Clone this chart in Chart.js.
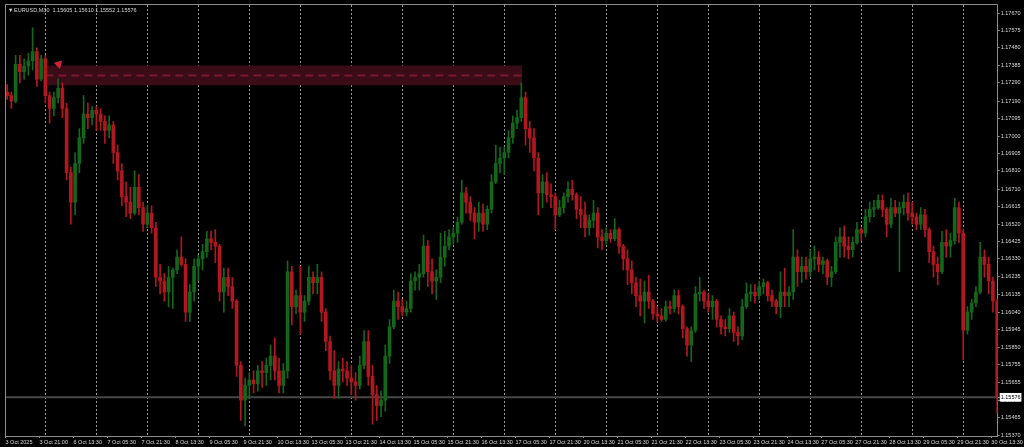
<!DOCTYPE html>
<html>
<head>
<meta charset="utf-8">
<script src="https://cdn.jsdelivr.net/npm/chart.js@4.4.1/dist/chart.umd.min.js"></script>
<style>
    html, body { margin: 0; padding: 0; background: #000; overflow: hidden; }
    #chartCandles { display: block; }
</style>
</head>
<body>
<canvas id="chartCandles" width="1024" height="447"></canvas>
<script>
const opens = [
    1.1724,1.1722,1.1719,1.1739,1.1735,1.1738,1.1741,1.1746,1.1731,1.1742,1.1722,1.1715,1.1721,1.1726,1.1715,1.1680,1.1664,1.1685,1.1699,1.1712,
    1.1710,1.1714,1.1712,1.1708,1.1703,1.1706,1.1691,1.1681,1.1667,1.1664,1.1658,1.1672,1.1661,1.1652,1.1658,1.1650,1.1623,1.1621,1.1615,1.1623,
    1.1627,1.1634,1.1630,1.1604,1.1615,1.1629,1.1633,1.1637,1.1644,1.1642,1.1640,1.1615,1.1623,1.1618,1.1610,1.1575,1.1556,1.1564,1.1567,1.1565,
    1.1572,1.1571,1.1575,1.1580,1.1572,1.1564,1.1572,1.1626,1.1607,1.1613,1.1604,1.1610,1.1623,1.1620,1.1623,1.1604,1.1588,1.1572,1.1564,1.1573,
    1.1572,1.1568,1.1566,1.1564,1.1575,1.1588,1.1569,1.1559,1.1553,1.1556,1.1580,1.1596,1.1610,1.1607,1.1604,1.1606,1.1621,1.1623,1.1625,1.1640,
    1.1626,1.1621,1.1623,1.1634,1.1640,1.1645,1.1647,1.1653,1.1669,1.1664,1.1658,1.1653,1.1658,1.1652,1.1660,1.1675,1.1685,1.1688,1.1691,1.1699,
    1.1707,1.1710,1.1721,1.1704,1.1699,1.1688,1.1669,1.1675,1.1668,1.1667,1.1657,1.1661,1.1667,1.1671,1.1668,1.1660,1.1657,1.1650,1.1654,1.1658,
    1.1645,1.1643,1.1647,1.1644,1.1649,1.1640,1.1633,1.1627,1.1620,1.1613,1.1610,1.1615,1.1610,1.1603,1.1602,1.1600,1.1607,1.1606,1.1613,1.1607,
    1.1595,1.1586,1.1594,1.1614,1.1615,1.1610,1.1607,1.1610,1.1600,1.1596,1.1595,1.1602,1.1593,1.1591,1.1607,1.1614,1.1615,1.1613,1.1618,1.1620,
    1.1613,1.1610,1.1607,1.1615,1.1613,1.1615,1.1634,1.1626,1.1629,1.1626,1.1633,1.1634,1.1630,1.1632,1.1623,1.1626,1.1642,1.1645,1.1640,1.1638,
    1.1642,1.1649,1.1647,1.1656,1.1660,1.1661,1.1665,1.1660,1.1652,1.1661,1.1658,1.1661,1.1664,1.1658,1.1656,1.1652,1.1657,1.1649,1.1637,1.1630,
    1.1626,1.1642,1.1640,1.1643,1.1661,1.1647,1.1594,1.1604,1.1609,1.1615,1.1634,1.1630,1.1621,1.1610
];
const highs = [
    1.1728,1.1724,1.1744,1.1744,1.1742,1.1745,1.1759,1.1748,1.1744,1.1744,1.1724,1.1724,1.1731,1.1729,1.1718,1.1683,1.1691,1.1704,1.1722,1.1718,
    1.1716,1.1716,1.1715,1.1711,1.1711,1.1708,1.1695,1.1685,1.1675,1.1672,1.1681,1.1679,1.1664,1.1662,1.1662,1.1653,1.1630,1.1625,1.1629,1.1628,
    1.1638,1.1645,1.1633,1.1619,1.1633,1.1635,1.1641,1.1648,1.1648,1.1649,1.1641,1.1628,1.1628,1.1623,1.1611,1.1577,1.1568,1.1571,1.1572,1.1575,
    1.1577,1.1579,1.1586,1.1590,1.1579,1.1576,1.1632,1.1629,1.1616,1.1629,1.1613,1.1629,1.1626,1.1630,1.1626,1.1606,1.1591,1.1583,1.1577,1.1579,
    1.1577,1.1575,1.1571,1.1580,1.1594,1.1594,1.1575,1.1564,1.1561,1.1586,1.1600,1.1616,1.1615,1.1611,1.1610,1.1625,1.1626,1.1630,1.1646,1.1643,
    1.1633,1.1627,1.1647,1.1648,1.1649,1.1650,1.1656,1.1676,1.1672,1.1667,1.1661,1.1664,1.1663,1.1662,1.1679,1.1695,1.1694,1.1694,1.1703,1.1711,
    1.1714,1.1729,1.1724,1.1708,1.1704,1.1691,1.1679,1.1680,1.1674,1.1669,1.1665,1.1669,1.1675,1.1676,1.1669,1.1667,1.1664,1.1657,1.1665,1.1661,
    1.1649,1.1650,1.1649,1.1655,1.1650,1.1641,1.1638,1.1632,1.1623,1.1622,1.1621,1.1624,1.1611,1.1607,1.1606,1.1610,1.1610,1.1616,1.1616,1.1608,
    1.1596,1.1596,1.1618,1.1623,1.1616,1.1614,1.1613,1.1611,1.1602,1.1600,1.1606,1.1604,1.1596,1.1611,1.1620,1.1619,1.1619,1.1621,1.1622,1.1621,
    1.1616,1.1611,1.1626,1.1628,1.1618,1.1649,1.1638,1.1634,1.1634,1.1638,1.1640,1.1637,1.1634,1.1633,1.1629,1.1645,1.1650,1.1651,1.1645,1.1645,
    1.1653,1.1650,1.1660,1.1664,1.1665,1.1668,1.1668,1.1661,1.1666,1.1665,1.1664,1.1668,1.1669,1.1664,1.1658,1.1661,1.1660,1.1650,1.1640,1.1634,
    1.1648,1.1649,1.1647,1.1666,1.1664,1.1649,1.1607,1.1611,1.1618,1.1642,1.1638,1.1634,1.1623,1.1611
];
const lows = [
    1.1720,1.1715,1.1718,1.1729,1.1731,1.1733,1.1736,1.1727,1.1730,1.1718,1.1707,1.1711,1.1718,1.1710,1.1676,1.1652,1.1657,1.1680,1.1696,1.1704,
    1.1706,1.1703,1.1703,1.1696,1.1699,1.1685,1.1676,1.1662,1.1656,1.1655,1.1657,1.1657,1.1648,1.1650,1.1647,1.1618,1.1614,1.1610,1.1607,1.1606,
    1.1625,1.1629,1.1599,1.1599,1.1610,1.1621,1.1627,1.1634,1.1638,1.1631,1.1610,1.1604,1.1613,1.1606,1.1569,1.1545,1.1542,1.1557,1.1560,1.1561,
    1.1563,1.1564,1.1567,1.1567,1.1560,1.1560,1.1568,1.1597,1.1603,1.1592,1.1599,1.1608,1.1614,1.1614,1.1599,1.1583,1.1567,1.1557,1.1557,1.1566,
    1.1564,1.1559,1.1556,1.1562,1.1573,1.1564,1.1543,1.1545,1.1547,1.1550,1.1576,1.1595,1.1600,1.1602,1.1602,1.1604,1.1616,1.1616,1.1623,1.1618,
    1.1614,1.1611,1.1620,1.1629,1.1638,1.1641,1.1642,1.1652,1.1658,1.1654,1.1644,1.1648,1.1648,1.1649,1.1658,1.1674,1.1680,1.1679,1.1688,1.1696,
    1.1704,1.1708,1.1695,1.1691,1.1681,1.1657,1.1661,1.1664,1.1661,1.1649,1.1656,1.1658,1.1664,1.1665,1.1655,1.1650,1.1645,1.1646,1.1650,1.1639,
    1.1638,1.1641,1.1642,1.1643,1.1636,1.1627,1.1619,1.1614,1.1607,1.1602,1.1598,1.1606,1.1600,1.1599,1.1599,1.1599,1.1603,1.1604,1.1603,1.1590,
    1.1580,1.1577,1.1593,1.1610,1.1606,1.1604,1.1600,1.1596,1.1592,1.1591,1.1593,1.1588,1.1586,1.1589,1.1606,1.1610,1.1609,1.1611,1.1614,1.1610,
    1.1607,1.1603,1.1601,1.1607,1.1607,1.1611,1.1618,1.1620,1.1622,1.1623,1.1627,1.1626,1.1625,1.1619,1.1618,1.1625,1.1634,1.1634,1.1633,1.1634,
    1.1641,1.1643,1.1645,1.1653,1.1656,1.1660,1.1656,1.1645,1.1650,1.1656,1.1626,1.1657,1.1654,1.1652,1.1649,1.1649,1.1645,1.1631,1.1623,1.1619,
    1.1625,1.1634,1.1634,1.1641,1.1642,1.1578,1.1592,1.1600,1.1607,1.1614,1.1623,1.1614,1.1604,1.1549
];
const closes = [
    1.1722,1.1719,1.1739,1.1735,1.1738,1.1741,1.1746,1.1731,1.1742,1.1722,1.1715,1.1721,1.1726,1.1715,1.1680,1.1664,1.1685,1.1699,1.1712,1.1710,
    1.1714,1.1712,1.1708,1.1703,1.1706,1.1691,1.1681,1.1667,1.1664,1.1658,1.1672,1.1661,1.1652,1.1658,1.1650,1.1623,1.1621,1.1615,1.1623,1.1627,
    1.1634,1.1630,1.1604,1.1615,1.1629,1.1633,1.1637,1.1644,1.1642,1.1640,1.1615,1.1623,1.1618,1.1610,1.1575,1.1556,1.1564,1.1567,1.1565,1.1572,
    1.1571,1.1575,1.1580,1.1572,1.1564,1.1572,1.1626,1.1607,1.1613,1.1604,1.1610,1.1623,1.1620,1.1623,1.1604,1.1588,1.1572,1.1564,1.1573,1.1572,
    1.1568,1.1566,1.1564,1.1575,1.1588,1.1569,1.1559,1.1553,1.1556,1.1580,1.1596,1.1610,1.1607,1.1604,1.1606,1.1621,1.1623,1.1625,1.1640,1.1626,
    1.1621,1.1623,1.1634,1.1640,1.1645,1.1647,1.1653,1.1669,1.1664,1.1658,1.1653,1.1658,1.1652,1.1660,1.1675,1.1685,1.1688,1.1691,1.1699,1.1707,
    1.1710,1.1721,1.1704,1.1699,1.1688,1.1669,1.1675,1.1668,1.1667,1.1657,1.1661,1.1667,1.1671,1.1668,1.1660,1.1657,1.1650,1.1654,1.1658,1.1645,
    1.1643,1.1647,1.1644,1.1649,1.1640,1.1633,1.1627,1.1620,1.1613,1.1610,1.1615,1.1610,1.1603,1.1602,1.1600,1.1607,1.1606,1.1613,1.1607,1.1595,
    1.1586,1.1594,1.1614,1.1615,1.1610,1.1607,1.1610,1.1600,1.1596,1.1595,1.1602,1.1593,1.1591,1.1607,1.1614,1.1615,1.1613,1.1618,1.1620,1.1613,
    1.1610,1.1607,1.1615,1.1613,1.1615,1.1634,1.1626,1.1629,1.1626,1.1633,1.1634,1.1630,1.1632,1.1623,1.1626,1.1642,1.1645,1.1640,1.1638,1.1642,
    1.1649,1.1647,1.1656,1.1660,1.1661,1.1665,1.1660,1.1652,1.1661,1.1658,1.1661,1.1664,1.1658,1.1656,1.1652,1.1657,1.1649,1.1637,1.1630,1.1626,
    1.1642,1.1640,1.1643,1.1661,1.1647,1.1594,1.1604,1.1609,1.1615,1.1634,1.1630,1.1621,1.1610,1.15576
];

// time axis, counted in 30 min bars from the first bar
const labelBars = [0,32,64,96,128,160,192,224,256,288,320,352,384,416,448,480,512,544,576,608,640,672,704,736,768,800,832,864,896,928];
const timeLabels = [
    '3 Oct 2025','3 Oct 21:00','6 Oct 13:30','7 Oct 05:30','7 Oct 21:30','8 Oct 13:30','9 Oct 05:30','9 Oct 21:30',
    '10 Oct 13:30','13 Oct 05:30','13 Oct 21:30','14 Oct 13:30','15 Oct 05:30','15 Oct 21:30','16 Oct 13:30','17 Oct 05:30',
    '17 Oct 21:30','20 Oct 13:30','21 Oct 05:30','21 Oct 21:30','22 Oct 13:30','23 Oct 05:30','23 Oct 21:30','24 Oct 13:30',
    '27 Oct 05:30','27 Oct 21:30','28 Oct 13:30','29 Oct 05:30','29 Oct 21:30','30 Oct 13:30'
];
// day separators (midnight)
const dayBreaks = [37.5,85.5,133.5,181.5,229.5,277.5,325.5,373.5,421.5,469.5,517.5,565.5,613.5,661.5,709.5,757.5,805.5,853.5,901.5];

const priceTicks = [
    1.17670,1.17575,1.17480,1.17385,1.17290,1.17190,1.17095,1.17000,1.16905,1.16810,1.16710,1.16615,1.16520,
    1.16425,1.16330,1.16235,1.16135,1.16040,1.15945,1.15850,1.15755,1.15655,1.15560,1.15465,1.15370
];
const lastPrice = 1.15576;
const titleText = 'EURUSD,M30  1.15605 1.15610 1.15552 1.15576';

// supply zone (bars / prices)
const zoneFrom = 37.5;
const zoneTo = 486.5;
const zoneTop = 1.17384;
const zoneBottom = 1.17276;
const zoneMid = 1.17330;
const arrowBar = 50;
const arrowPrice = 1.17392;

const barsPerCandle = 4;
const xMin = -0.5;
const xMax = 934;

const GREEN = '#13661a';
const RED = '#b0171f';
const AXIS = '#8c8c8c';
const TEXT = '#d8d8d8';
const FONT = { family: 'Liberation Sans, Arial, sans-serif', size: 5.5 };

const candleTime = i => i * barsPerCandle + (barsPerCandle - 1) / 2;
const colors = closes.map((c, i) => c >= opens[i] ? GREEN : RED);

const frame = {
    id: 'frame',
    afterDraw(chart) {
        const { ctx, chartArea: a } = chart;
        ctx.save();
        ctx.strokeStyle = AXIS;
        ctx.lineWidth = 1;
        ctx.beginPath();
        ctx.moveTo(a.left + 0.5, a.bottom);
        ctx.lineTo(a.left + 0.5, a.top - 0.5);
        ctx.lineTo(a.right, a.top - 0.5);
        ctx.stroke();
        //title
        ctx.fillStyle = TEXT;
        ctx.font = '5.5px Liberation Sans, Arial, sans-serif';
        ctx.textBaseline = 'middle';
        ctx.fillText('\u25BC', a.left + 3, a.top + 5);
        ctx.fillText(titleText, a.left + 9, a.top + 5);
        ctx.restore();
    }
};

const configCandles = {
    type: 'bar',
    data: {
        datasets: [
            {
                type: 'line',
                label: 'zone top',
                data: [{ x: zoneFrom, y: zoneTop }, { x: zoneTo, y: zoneTop }],
                borderColor: 'transparent',
                borderWidth: 0,
                pointRadius: 0,
                backgroundColor: '#3a0c17',
                fill: '+1',
                order: 10
            },
            {
                type: 'line',
                label: 'zone bottom',
                data: [{ x: zoneFrom, y: zoneBottom }, { x: zoneTo, y: zoneBottom }],
                borderColor: 'transparent',
                borderWidth: 0,
                pointRadius: 0,
                fill: false,
                order: 11
            },
            {
                type: 'line',
                label: 'zone mid',
                data: [{ x: zoneFrom, y: zoneMid }, { x: zoneTo, y: zoneMid }],
                borderColor: '#7a1830',
                borderWidth: 2,
                borderDash: [8, 5],
                pointRadius: 0,
                fill: false,
                order: 9
            },
            {
                type: 'line',
                label: 'bid',
                data: [{ x: xMin, y: lastPrice }, { x: xMax, y: lastPrice }],
                borderColor: '#474747',
                borderWidth: 2,
                pointRadius: 0,
                fill: false,
                order: 8
            },
            {
                label: 'wick',
                data: closes.map((c, i) => ({ x: candleTime(i), y: [lows[i], highs[i]] })),
                backgroundColor: colors,
                borderWidth: 0,
                barThickness: 1,
                grouped: false,
                order: 2
            },
            {
                label: 'body',
                data: closes.map((c, i) => ({ x: candleTime(i), y: [opens[i], c] })),
                backgroundColor: colors,
                borderWidth: 0,
                barThickness: 3,
                grouped: false,
                order: 1
            },
            {
                type: 'line',
                label: 'arrow',
                data: [{ x: arrowBar, y: arrowPrice }],
                showLine: false,
                pointStyle: 'triangle',
                rotation: 165,
                pointRadius: 5,
                pointBackgroundColor: '#d0213d',
                pointBorderWidth: 0,
                order: 0
            }
        ]
    },
    options: {
        responsive: false,
        animation: false,
        events: [],
        layout: { padding: { left: 1, top: 1, right: 0, bottom: 0 } },
        scales: {
            x: {
                type: 'linear',
                position: 'bottom',
                min: xMin,
                max: xMax,
                bounds: 'data',
                offset: false,
                afterBuildTicks: (scale) => { scale.ticks = labelBars.map(v => ({ value: v })); },
                afterFit: (scale) => { scale.height = 11; },
                grid: { offset: false, drawOnChartArea: false, drawTicks: true, tickLength: 2, tickColor: AXIS },
                border: { display: true, color: AXIS, width: 1 },
                ticks: {
                    autoSkip: false,
                    maxRotation: 0,
                    minRotation: 0,
                    align: 'start',
                    padding: 1,
                    color: TEXT,
                    font: FONT,
                    callback: (v, i) => timeLabels[i]
                }
            },
            xd: {
                type: 'linear',
                position: 'top',
                min: xMin,
                max: xMax,
                bounds: 'data',
                offset: false,
                afterBuildTicks: (scale) => { scale.ticks = dayBreaks.map(v => ({ value: v })); },
                afterFit: (scale) => { scale.height = 0; },
                grid: { offset: false, drawTicks: false, color: '#9a9a9a', lineWidth: 1 },
                border: { display: false, dash: [2, 2] },
                ticks: { display: false }
            },
            y: {
                type: 'linear',
                position: 'right',
                min: 1.15365,
                max: 1.17714,
                bounds: 'data',
                afterBuildTicks: (scale) => { scale.ticks = priceTicks.concat([lastPrice]).map(v => ({ value: v })); },
                afterFit: (scale) => { scale.width = 24; },
                grid: { drawOnChartArea: false, drawTicks: true, tickLength: 2, tickColor: AXIS },
                border: { display: true, color: AXIS, width: 1 },
                ticks: {
                    autoSkip: false,
                    padding: 1,
                    font: FONT,
                    color: (c) => c.tick.value === lastPrice ? '#000' : TEXT,
                    showLabelBackdrop: true,
                    backdropColor: (c) => c.tick.value === lastPrice ? '#fff' : 'rgba(0,0,0,0)',
                    backdropPadding: { top: 1, bottom: 1, left: 1, right: 1 },
                    callback: (v) => v.toFixed(5)
                }
            }
        },
        plugins: {
            legend: { display: false },
            tooltip: { enabled: false }
        }
    },
    plugins: [frame]
};

const myCandleChart = new Chart(document.getElementById('chartCandles'), configCandles);
</script>
</body>
</html>
